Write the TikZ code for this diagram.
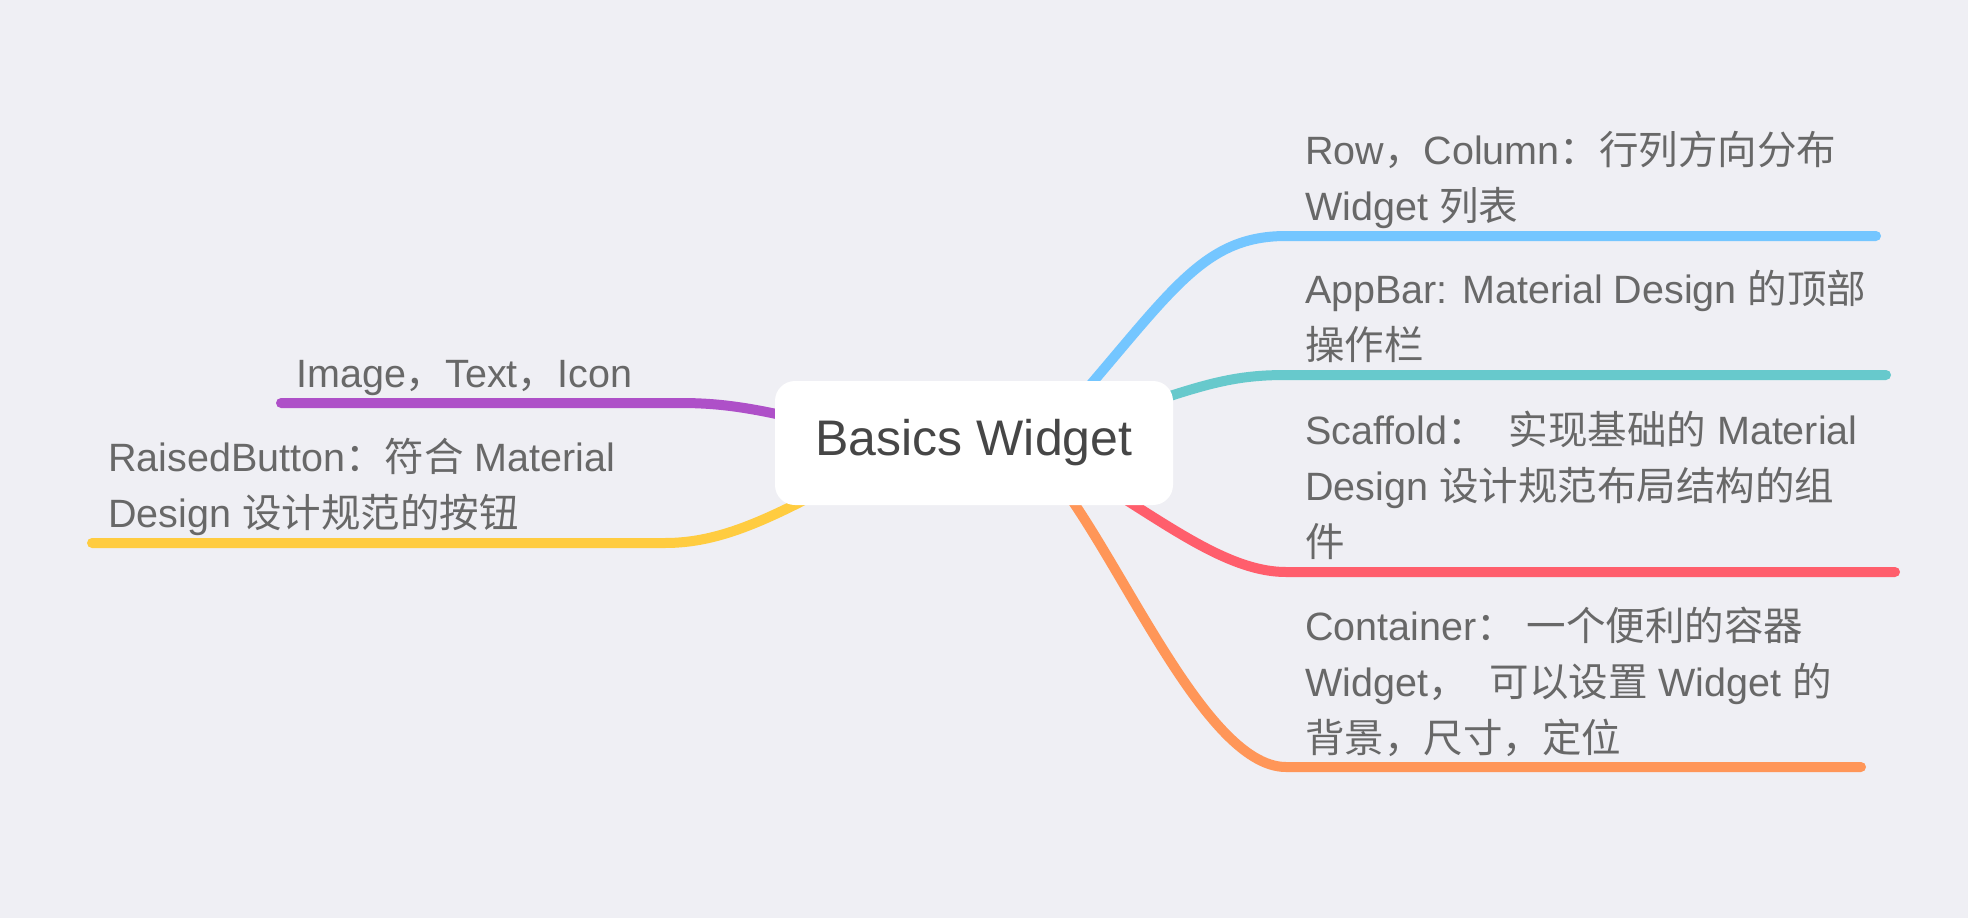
\documentclass[tikz,border=0pt]{standalone}
\usepackage{fontspec}
\setmainfont{Liberation Sans}
\newfontfamily\cjk{Noto Sans CJK SC}
\newcommand\zh[1]{{\cjk #1}}
\definecolor{bg}{RGB}{239,239,244}
\definecolor{txt}{RGB}{104,104,104}
\definecolor{ctxt}{RGB}{70,70,70}
\definecolor{cblue}{RGB}{116,198,255}
\definecolor{cteal}{RGB}{103,201,204}
\definecolor{cred}{RGB}{255,94,108}
\definecolor{corange}{RGB}{255,150,88}
\definecolor{cpurple}{RGB}{174,80,200}
\definecolor{cyellow}{RGB}{255,204,64}
\begin{document}
\begin{tikzpicture}[x=1pt,y=-1pt,
  branch/.style={line width=10pt,line cap=round},
  label/.style={anchor=base west,inner sep=0pt,align=left,text=txt,font=\fontsize{39.5}{56}\selectfont},
  central/.style={fill=white,rounded corners=20pt,minimum width=398pt,minimum height=124pt,inner sep=0pt,text=ctxt,font=\fontsize{50}{56}\selectfont}]
\fill[bg] (0,0) rectangle (1968,918);
\useasboundingbox (0,0) rectangle (1968,918);
% coordinates
\coordinate (sB) at (1060,420); \coordinate (hB) at (1286,236); \coordinate (eB) at (1876,236);
\coordinate (sT) at (1100,420); \coordinate (hT) at (1286,375); \coordinate (eT) at (1886,375);
\coordinate (sR) at (1060,460); \coordinate (hR) at (1286,572); \coordinate (eR) at (1895,572);
\coordinate (sO) at (1040,460); \coordinate (hO) at (1286,767); \coordinate (eO) at (1861,767);
\coordinate (sP) at (880,440);  \coordinate (hP) at (680,403);  \coordinate (eP) at (281,403);
\coordinate (sY) at (860,470);  \coordinate (hY) at (665,543);  \coordinate (eY) at (92,543);
\draw[branch,cblue] (sB) .. controls (1170,295) and (1200,236) .. (hB) -- (eB);
\draw[branch,cteal] (sT) .. controls (1200,385) and (1230,375) .. (hT) -- (eT);
\draw[branch,cred] (sR) .. controls (1150,510) and (1220,572) .. (hR) -- (eR);
\draw[branch,corange] (sO) .. controls (1110,530) and (1200,767) .. (hO) -- (eO);
\draw[branch,cpurple] (sP) .. controls (770,410) and (730,403) .. (hP) -- (eP);
\draw[branch,cyellow] (sY) .. controls (770,520) and (720,543) .. (hY) -- (eY);
\node[central] (root) at (974,443) {Basics Widget};
\node[label] (row) at (1305,220) {Row\zh{，}Column\zh{：行列方向分布}\\Widget \zh{列表}};
\node[label] (appbar) at (1305,359) {AppBar: Material Design \zh{的顶部}\\\zh{操作栏}};
\node[label] (scaffold) at (1305,556) {Scaffold\zh{：}\ \ \zh{实现基础的} Material\\Design \zh{设计规范布局结构的组}\\\zh{件}};
\node[label] (container) at (1305,752) {Container\zh{：} \zh{一个便利的容器}\\Widget\zh{，}\ \ \zh{可以设置} Widget \zh{的}\\\zh{背景，尺寸，定位}};
\node[label] (image) at (296,387) {Image\zh{，}Text\zh{，}Icon};
\node[label] (raised) at (108,527) {RaisedButton\zh{：符合} Material\\Design \zh{设计规范的按钮}};
\end{tikzpicture}
\end{document}
